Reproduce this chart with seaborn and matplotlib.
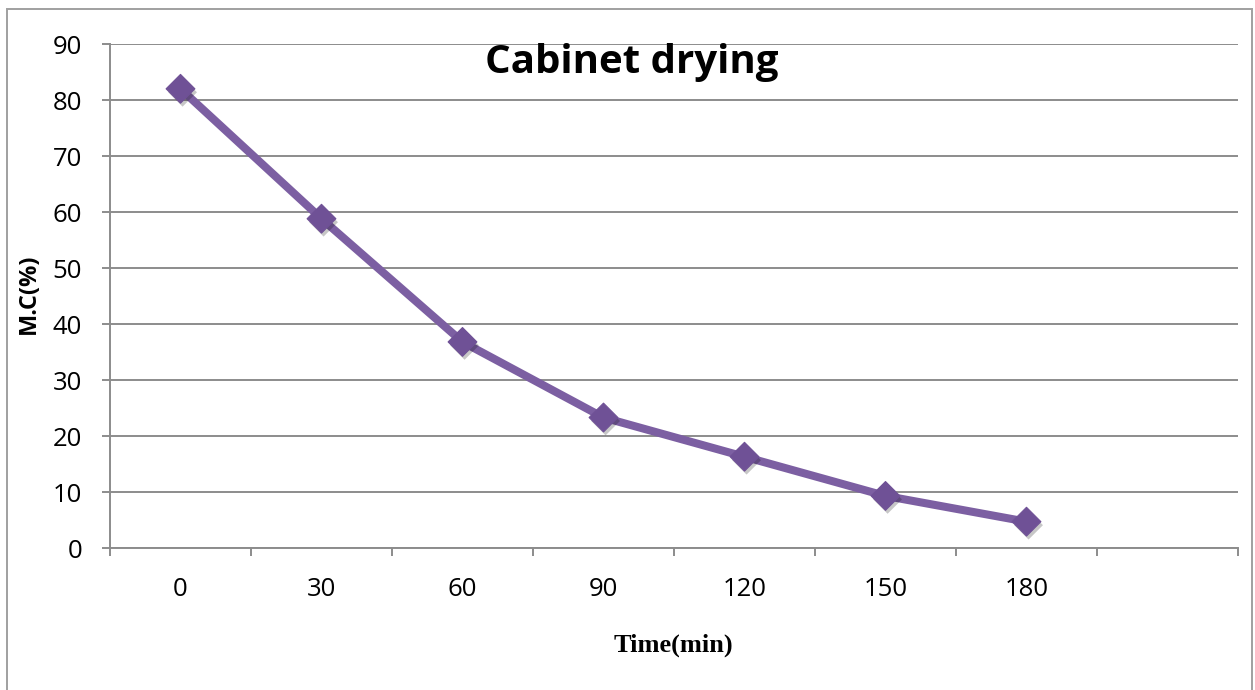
import matplotlib
matplotlib.use("Agg")
import matplotlib.pyplot as plt
import matplotlib.patheffects as pe
from matplotlib.patches import Rectangle
from matplotlib.ticker import FixedLocator, NullFormatter, FixedFormatter
import pandas as pd
import seaborn as sns

# Drying curve: moisture content versus time
time_labels = ["0", "30", "60", "90", "120", "150", "180"]
moisture = [82.0, 58.8, 36.8, 23.3, 16.3, 9.3, 4.7]
y_ticks = [0, 10, 20, 30, 40, 50, 60, 70, 80, 90]

title_text = "Cabinet drying"
x_label = "Time(min)"
y_label = "M.C(%)"

line_color = "#7C5FA2"
marker_color = "#6F5196"
grid_color = "#8C8C8C"

sns.set_theme(style="white")
plt.rcParams["font.family"] = ["Open Sans", "DejaVu Sans"]
plt.rcParams["text.color"] = "black"
plt.rcParams["axes.labelcolor"] = "black"

W, H, DPI = 1255, 690, 100
fig = plt.figure(figsize=(W / DPI, H / DPI), dpi=DPI)
fig.patch.set_facecolor("white")

left, right, top, bottom = 110, 1238, 44, 548
ax = fig.add_axes([left / W, 1 - bottom / H, (right - left) / W, (bottom - top) / H])

df = pd.DataFrame({"time": pd.Categorical(time_labels, categories=time_labels),
                   "mc": moisture})
df["pos"] = df["time"].cat.codes

# connecting line
sns.lineplot(data=df, x="pos", y="mc", ax=ax, color=line_color, linewidth=5.8,
             solid_capstyle="butt", zorder=3)
# diamond markers with a soft drop shadow
sns.scatterplot(data=df, x="pos", y="mc", ax=ax, marker="D", s=215,
                color=marker_color, edgecolor=marker_color, linewidth=0.8,
                zorder=4,
                path_effects=[pe.SimplePatchShadow(offset=(1.5, -2.5), alpha=0.22,
                                                   shadow_rgbFace="black"),
                              pe.Normal()])

n_slots = len(time_labels) + 1
ax.set_xlim(-0.5, n_slots - 0.5)
ax.set_ylim(0, 90)
ax.set_xlabel("")
ax.set_ylabel("")

# y axis: gridlines and outward ticks
ax.set_yticks(y_ticks)
ax.set_yticklabels([str(v) for v in y_ticks])
ax.yaxis.grid(True, color=grid_color, linewidth=1.4)
ax.xaxis.grid(False)
ax.set_axisbelow(True)
ax.tick_params(axis="y", which="major", length=6, width=1.4, color=grid_color,
               direction="out", pad=14, labelsize=18.5, labelcolor="black", left=True)

# x axis: ticks between categories, labels centred on categories
ax.xaxis.set_major_locator(FixedLocator([i - 0.5 for i in range(n_slots + 1)]))
ax.xaxis.set_major_formatter(NullFormatter())
ax.xaxis.set_minor_locator(FixedLocator(list(range(len(time_labels)))))
ax.xaxis.set_minor_formatter(FixedFormatter(time_labels))
ax.tick_params(axis="x", which="major", length=6, width=1.4, color=grid_color,
               direction="out", bottom=True)
ax.tick_params(axis="x", which="minor", length=0, pad=21, labelsize=18.5,
               labelcolor="black", bottom=True)

for side in ["top", "right"]:
    ax.spines[side].set_visible(False)
for side in ["left", "bottom"]:
    ax.spines[side].set_color(grid_color)
    ax.spines[side].set_linewidth(1.4)

ax.set_xlabel(x_label, family=["Liberation Serif", "DejaVu Serif"], fontweight="bold",
              fontsize=19, va="center", color="black")
ax.xaxis.set_label_coords((673 - left) / (right - left), -(645 - bottom) / (bottom - top))
ax.set_ylabel(y_label, fontweight="bold", fontsize=17, va="center", color="black")
ax.yaxis.set_label_coords(-(left - 29) / (right - left), 0.5 + (296 - 294) / (bottom - top))

fig.text(632 / W, 1 - 73 / H, title_text, ha="center", va="baseline",
         fontsize=29, fontweight="bold", color="black")

# chart area border
fig.add_artist(Rectangle((7 / W, -0.05), (1252 - 7) / W, 1.05 - 9 / H,
                         transform=fig.transFigure, fill=False,
                         edgecolor="#A0A0A0", linewidth=1.4))

fig.savefig("out.png", dpi=DPI)
